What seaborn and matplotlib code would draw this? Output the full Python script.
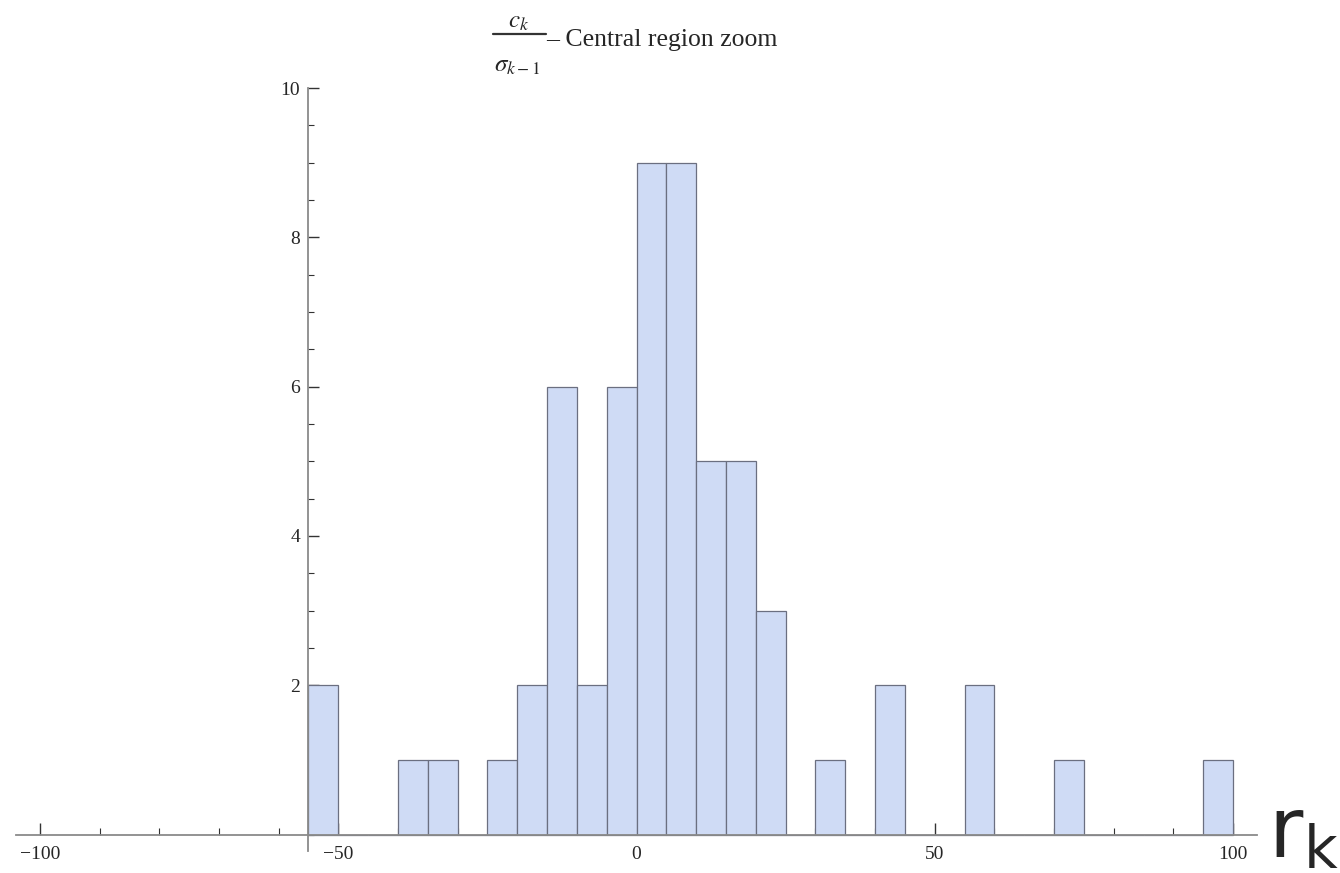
import matplotlib
matplotlib.use('Agg')
import matplotlib.pyplot as plt
from matplotlib.lines import Line2D
from matplotlib.ticker import MultipleLocator, FixedLocator
import seaborn as sns
import numpy as np

# histogram bins (left edges, width 5) and counts
bin_left = [-55, -40, -35, -25, -20, -15, -10, -5, 0, 5, 10, 15, 20, 30, 40, 55, 70, 95]
counts = [2, 1, 1, 1, 2, 6, 2, 6, 9, 9, 5, 5, 3, 1, 2, 2, 1, 1]
bin_width = 5
x_ticks = [-100, -50, 0, 50, 100]
y_ticks = [2, 4, 6, 8, 10]

sns.set_style('white')
plt.rcParams['font.family'] = ['Liberation Serif', 'DejaVu Serif']
plt.rcParams['mathtext.fontset'] = 'stix'

W, H = 1340, 873
fig = plt.figure(figsize=(13.4, 8.73), dpi=100)
ax = fig.add_axes([16 / W, 22 / H, 1241 / W, (851 - 88) / H])

centers = np.array(bin_left) + bin_width / 2
sns.histplot(x=centers, weights=counts, binwidth=bin_width, binrange=(-55, 100),
             color='#cfdbf5', alpha=1.0, edgecolor='#6b6f80', linewidth=0.9, ax=ax)

ax.set_xlim(-104, 104)
ax.set_ylim(-0.22, 10)
ax.set_xlabel('')
ax.set_ylabel('')

for s in ['top', 'right']:
    ax.spines[s].set_visible(False)
ax.spines['left'].set_position(('data', -55))
ax.spines['bottom'].set_position(('data', 0))
for s in ['left', 'bottom']:
    ax.spines[s].set_color('#8a8a8a')
    ax.spines[s].set_linewidth(1.3)

ax.xaxis.set_major_locator(FixedLocator(x_ticks))
ax.xaxis.set_minor_locator(MultipleLocator(10))
ax.yaxis.set_major_locator(FixedLocator(y_ticks))
ax.yaxis.set_minor_locator(MultipleLocator(0.5))
ax.set_xticklabels(['\u2212100', '\u221250', '0', '50', '100'])
ax.tick_params(bottom=True, left=True, which='both')
ax.tick_params(axis='x', which='major', direction='in', length=9, width=1, color='#333333',
               labelsize=14, pad=8)
ax.tick_params(axis='x', which='minor', direction='in', length=5, width=0.8, color='#333333')
ax.tick_params(axis='y', which='major', direction='in', length=8, width=1, color='#333333',
               labelsize=14, pad=6)
ax.tick_params(axis='y', which='minor', direction='in', length=4, width=0.8, color='#333333')
ax.grid(False)

# title: c_k / sigma_{k-1} - Central region zoom
fig.text(519 / W, 1 - 22 / H, r'$c_k$', ha='center', va='center', fontsize=18)
fig.text(517 / W, 1 - 66 / H, r'$\sigma_{k-1}$', ha='center', va='center', fontsize=18)
fig.add_artist(Line2D([493 / W, 546 / W], [1 - 34 / H, 1 - 34 / H], color='#333333', lw=1.6))
fig.text(546 / W, 1 - 40 / H, '\u2013 Central region zoom', ha='left', va='center',
         fontsize=18.5)

# big axis label at the right edge
fig.text(1268 / W, 1 - 858 / H, r'r$_\mathregular{k}$', family='DejaVu Sans', fontsize=60,
         ha='left', va='baseline')

fig.savefig('out.png', dpi=100)
